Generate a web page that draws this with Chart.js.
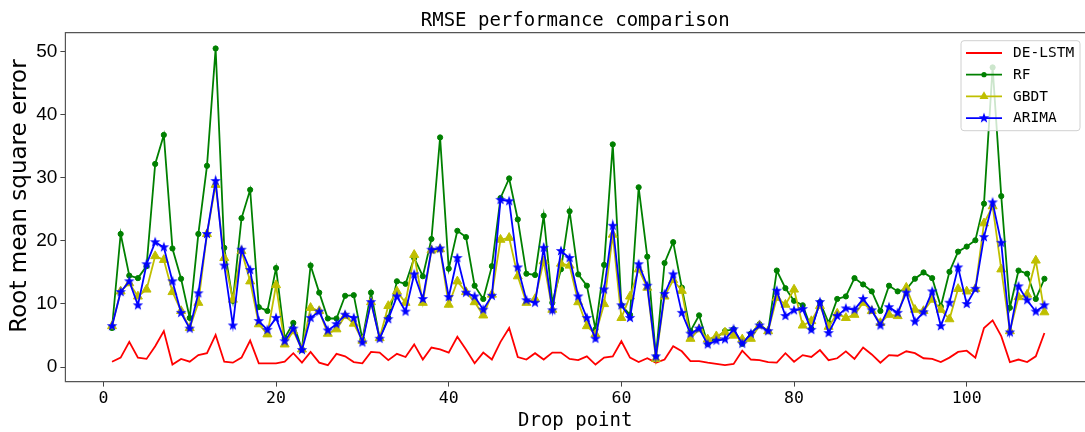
<!DOCTYPE html>
<html>
<head>
<meta charset="utf-8">
<title>RMSE performance comparison</title>
<script src="https://cdn.jsdelivr.net/npm/chart.js"></script>
<style>
  html, body { margin: 0; padding: 0; background: #fff; overflow: hidden; }
  #wrap { width: 1085px; height: 432px; }
</style>
</head>
<body>
<div id="wrap"><canvas id="rmse-chart" width="1085" height="432"></canvas></div>
<script>
// drop point ids on the x axis
const dropPoints = Array.from({ length: 109 }, (_, i) => i + 1);

const deLstm = [
  0.85, 1.5, 4.0, 1.5, 1.3, 3.3, 5.7, 0.4, 1.3, 0.85,
  1.9, 2.2, 5.1, 0.85, 0.7, 1.5, 4.2, 0.6, 0.6, 0.6,
  0.85, 2.2, 0.7, 2.4, 0.7, 0.3, 2.1, 1.7, 0.8, 0.6,
  2.4, 2.3, 1.1, 2.1, 1.6, 3.6, 1.2, 3.1, 2.8, 2.3,
  4.8, 2.8, 0.6, 2.3, 1.2, 4.0, 6.2, 1.6, 1.2, 2.2,
  1.2, 2.3, 2.3, 1.3, 1.1, 1.7, 0.4, 1.5, 1.7, 4.1,
  1.5, 0.8, 1.4, 0.7, 1.2, 3.3, 2.5, 0.95, 0.95, 0.7,
  0.5, 0.3, 0.5, 2.6, 1.2, 1.1, 0.8, 0.7, 2.2, 0.85,
  1.9, 1.6, 2.7, 1.1, 1.4, 2.5, 1.3, 3.1, 2.0, 0.7,
  1.9, 1.8, 2.5, 2.2, 1.4, 1.3, 0.8, 1.5, 2.4, 2.6,
  1.5, 6.2, 7.4, 4.9, 0.8, 1.2, 0.8, 1.7, 5.4
];

const rf = [
  6.2, 21.1, 14.5, 14.1, 16.0, 32.2, 36.8, 18.8, 14.0, 7.8,
  21.1, 31.9, 50.5, 18.9, 10.5, 23.6, 28.1, 9.5, 8.9, 15.7,
  4.6, 7.0, 2.8, 16.1, 11.8, 7.7, 7.7, 11.3, 11.4, 4.4,
  11.8, 4.6, 7.8, 13.6, 13.2, 17.3, 14.4, 20.3, 36.4, 15.6,
  21.6, 20.6, 12.9, 10.8, 16.0, 26.8, 29.9, 23.4, 14.8, 14.6,
  24.0, 10.2, 15.5, 24.7, 14.7, 12.9, 6.0, 16.2, 35.3, 9.8,
  8.3, 28.5, 17.5, 1.7, 16.5, 19.8, 12.6, 5.7, 8.2, 3.7,
  4.7, 5.7, 6.0, 3.7, 5.3, 6.8, 5.7, 15.3, 12.5, 10.5,
  9.8, 6.1, 10.3, 7.0, 10.8, 11.2, 14.1, 13.1, 12.0, 8.9,
  12.9, 12.0, 12.3, 14.0, 15.0, 14.1, 9.6, 15.1, 18.3, 19.1,
  20.1, 25.9, 47.5, 27.1, 9.4, 15.3, 14.8, 10.8, 14.0
];

const gbdt = [
  6.5, 12.0, 13.3, 11.2, 12.3, 17.6, 17.0, 11.9, 8.9, 6.2,
  10.2, 21.1, 28.9, 17.3, 10.7, 18.4, 13.6, 6.8, 5.2, 13.0,
  3.6, 5.7, 2.8, 9.4, 8.9, 5.3, 6.0, 8.1, 6.9, 4.2,
  10.3, 4.6, 9.7, 12.0, 10.2, 17.8, 10.2, 18.5, 18.7, 9.9,
  13.6, 11.9, 10.3, 8.2, 11.5, 20.2, 20.5, 14.4, 10.2, 10.8,
  16.8, 9.1, 16.4, 16.1, 10.3, 6.5, 5.2, 10.0, 21.0, 7.8,
  11.2, 15.5, 12.6, 1.3, 11.2, 13.8, 12.1, 4.5, 6.0, 4.4,
  4.9, 5.5, 5.0, 4.4, 4.5, 6.6, 5.7, 11.0, 9.9, 12.3,
  6.6, 7.3, 9.7, 6.4, 8.5, 7.8, 8.3, 10.2, 8.9, 7.0,
  8.3, 8.1, 12.6, 9.1, 8.9, 10.7, 9.1, 7.6, 12.4, 12.0,
  12.4, 22.8, 25.5, 15.5, 5.7, 11.1, 11.5, 16.9, 8.7
];

const arima = [
  6.5, 11.9, 13.6, 9.8, 16.3, 19.8, 19.0, 13.6, 8.6, 6.1,
  11.7, 21.1, 29.5, 16.1, 6.6, 18.6, 15.4, 7.3, 5.9, 7.8,
  4.1, 6.1, 2.7, 7.8, 8.8, 5.8, 6.8, 8.3, 7.8, 3.9,
  10.3, 4.5, 7.6, 11.2, 8.8, 14.7, 10.8, 18.6, 18.8, 11.1,
  17.3, 11.8, 11.2, 9.1, 11.3, 26.5, 26.3, 15.8, 10.6, 10.2,
  18.9, 9.0, 18.4, 17.3, 11.2, 7.8, 4.5, 12.3, 22.4, 9.8,
  7.8, 16.3, 12.9, 1.7, 11.6, 14.7, 8.6, 5.3, 6.1, 3.6,
  4.2, 4.4, 6.0, 3.7, 5.3, 6.6, 5.7, 12.1, 8.1, 9.0,
  9.2, 5.9, 10.3, 5.4, 8.1, 9.3, 9.1, 10.8, 9.0, 6.6,
  9.5, 8.6, 11.8, 7.2, 8.7, 12.0, 6.5, 10.2, 15.8, 10.0,
  12.4, 20.6, 26.1, 19.7, 5.5, 12.8, 10.6, 8.8, 9.8
];

const xTicks = [0, 20, 40, 60, 80, 100];
const yTicks = [0, 10, 20, 30, 40, 50];

const MONO = "'DejaVu Sans Mono', 'Liberation Mono', monospace";
const SANS = "'Liberation Sans', Arial, sans-serif";

// filled five-point star, used as the ARIMA marker
function starMarker(color, size) {
  const c = document.createElement('canvas');
  c.width = size;
  c.height = size;
  const g = c.getContext('2d');
  const cx = size / 2, cy = size / 2;
  const outer = size / 2 - 0.5, inner = outer * 0.42;
  g.beginPath();
  for (let k = 0; k < 10; k++) {
    const r = k % 2 ? inner : outer;
    const a = -Math.PI / 2 + k * Math.PI / 5;
    g.lineTo(cx + r * Math.cos(a), cy + r * Math.sin(a));
  }
  g.closePath();
  g.fillStyle = color;
  g.fill();
  return c;
}

const star = starMarker('#0000ff', 12);

// axes frame; the right spine falls just outside the canvas
const frame = {
  id: 'frame',
  afterDatasetsDraw(chart) {
    const { ctx, chartArea: a } = chart;
    ctx.save();
    ctx.strokeStyle = '#555';
    ctx.lineWidth = 1.2;
    ctx.beginPath();
    ctx.moveTo(a.right + 2, a.top);
    ctx.lineTo(a.left, a.top);
    ctx.lineTo(a.left, a.bottom);
    ctx.lineTo(a.right + 2, a.bottom);
    ctx.stroke();
    ctx.restore();
  }
};

// rotated y axis caption, placed a little above the axis middle
const yCaption = {
  id: 'yCaption',
  afterDraw(chart) {
    const { ctx } = chart;
    ctx.save();
    ctx.translate(20, 196);
    ctx.rotate(-Math.PI / 2);
    ctx.font = "23px 'DejaVu Sans', sans-serif";
    ctx.fillStyle = '#000';
    ctx.textAlign = 'center';
    ctx.textBaseline = 'middle';
    ctx.fillText('Root mean square error', 0, 0);
    ctx.restore();
  }
};

function drawMarker(ctx, ds, x, y) {
  const style = ds.pointStyle;
  const r = ds.pointRadius;
  ctx.fillStyle = ds.pointBackgroundColor;
  if (style && typeof style === 'object') {
    ctx.drawImage(style, x - style.width / 2, y - style.height / 2);
    return;
  }
  if (!r) return;
  ctx.beginPath();
  if (style === 'triangle') {
    for (let k = 0; k < 3; k++) {
      const a = k * 2 * Math.PI / 3;
      ctx.lineTo(x + Math.sin(a) * r, y - Math.cos(a) * r);
    }
    ctx.closePath();
  } else {
    ctx.arc(x, y, r, 0, Math.PI * 2);
  }
  ctx.fill();
}

// boxed legend in the upper right corner of the axes
const cornerLegend = {
  id: 'cornerLegend',
  afterDatasetsDraw(chart) {
    const { ctx, chartArea: a } = chart;
    const w = 119, h = 90;
    const bx = a.right - 5 - w, by = a.top + 8;
    ctx.save();
    ctx.beginPath();
    ctx.roundRect(bx, by, w, h, 3);
    ctx.fillStyle = 'rgba(255,255,255,0.8)';
    ctx.fill();
    ctx.strokeStyle = '#d0d0d0';
    ctx.lineWidth = 1;
    ctx.stroke();

    ctx.font = '14.5px ' + MONO;
    ctx.textBaseline = 'middle';
    chart.data.datasets.forEach((ds, i) => {
      const cy = by + 12.3 + i * 21.7;
      const lx = bx + 5;
      ctx.strokeStyle = ds.borderColor;
      ctx.lineWidth = ds.borderWidth;
      ctx.beginPath();
      ctx.moveTo(lx, cy);
      ctx.lineTo(lx + 36, cy);
      ctx.stroke();
      drawMarker(ctx, ds, lx + 18, cy);
      ctx.fillStyle = '#000';
      ctx.fillText(ds.label, bx + 52, cy + 0.5);
    });
    ctx.restore();
  }
};

const series = (label, data, color, extra) => Object.assign({
  label: label,
  data: data,
  borderColor: color,
  backgroundColor: color,
  pointBackgroundColor: color,
  pointBorderColor: color,
  borderWidth: 1.8,
  pointBorderWidth: 1,
  tension: 0,
  fill: false
}, extra);

// keep the axes from asking for extra room at their ends
const noEndPadding = s => {
  s.paddingLeft = 0;
  s.paddingRight = 0;
  s.paddingTop = 0;
  s.paddingBottom = 0;
};

new Chart(document.getElementById('rmse-chart'), {
  type: 'line',
  data: {
    labels: dropPoints,
    datasets: [
      series('DE-LSTM', deLstm, '#ff0000', { pointRadius: 0, order: 4 }),
      series('RF', rf, '#008000', { pointRadius: 2.6, pointStyle: 'circle', order: 3 }),
      series('GBDT', gbdt, '#bfbf00', { pointRadius: 5.2, pointStyle: 'triangle', order: 2 }),
      series('ARIMA', arima, '#0000ff', { pointRadius: 5, pointStyle: star, order: 1 })
    ]
  },
  options: {
    responsive: false,
    animation: false,
    devicePixelRatio: 1,
    layout: { padding: 0, autoPadding: false },
    plugins: {
      legend: { display: false },
      tooltip: { enabled: false },
      title: {
        display: true,
        fullSize: false,
        text: 'RMSE performance comparison',
        color: '#000',
        font: { family: MONO, size: 19, weight: 'normal' },
        padding: { top: 9.6, bottom: 0.3 }
      }
    },
    scales: {
      x: {
        type: 'linear',
        // the axes end at the canvas edge, a little short of the full margin
        min: -4.4,
        max: 113.7,
        afterBuildTicks: s => { s.ticks = xTicks.map(v => ({ value: v })); },
        afterFit: s => { s.height = 50.4; noEndPadding(s); },
        grid: { drawOnChartArea: false, drawTicks: true, tickLength: 5, color: '#444' },
        border: { display: false },
        ticks: { color: '#000', padding: 2, font: { family: MONO, size: 16.5 } },
        title: {
          display: true,
          text: 'Drop point',
          color: '#000',
          font: { family: MONO, size: 19 },
          padding: { top: 0, bottom: 0 }
        }
      },
      y: {
        type: 'linear',
        min: -2.3,
        max: 53,
        afterBuildTicks: s => { s.ticks = yTicks.map(v => ({ value: v })); },
        afterFit: s => { s.width = 65.4; noEndPadding(s); },
        grid: { drawOnChartArea: false, drawTicks: true, tickLength: 5, color: '#444' },
        border: { display: false },
        ticks: { color: '#000', padding: 3, font: { family: SANS, size: 19 } },
        title: { display: false }
      }
    }
  },
  plugins: [frame, cornerLegend, yCaption]
});
</script>
</body>
</html>
